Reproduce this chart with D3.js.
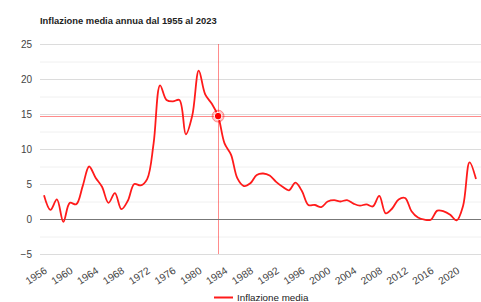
<!DOCTYPE html>
<html>
<head>
<meta charset="utf-8">
<script src="https://cdn.jsdelivr.net/npm/d3@7"></script>
<style>
  html, body { margin: 0; padding: 0; background: #fff; }
  svg { display: block; font-family: Arial, "Liberation Sans", sans-serif; }
</style>
</head>
<body>
<svg id="chart" width="481" height="302"></svg>
<script>
// ---- data ----
const title = "Inflazione media annua dal 1955 al 2023";
const seriesName = "Inflazione media";
const years = d3.range(1956, 2024);
const inflation = [
  3.4, 1.3, 2.8, -0.4, 2.3, 2.1, 4.7, 7.5, 5.9, 4.6,
  2.3, 3.7, 1.4, 2.6, 5.0, 4.8, 5.7, 10.8, 19.1, 17.0,
  16.8, 17.0, 12.1, 14.8, 21.2, 17.8, 16.5, 14.7, 10.8, 9.2,
  5.8, 4.7, 5.1, 6.3, 6.5, 6.2, 5.3, 4.6, 4.1, 5.2,
  4.0, 2.0, 2.0, 1.7, 2.5, 2.7, 2.5, 2.7, 2.2, 1.9,
  2.1, 1.8, 3.3, 0.8, 1.5, 2.8, 3.0, 1.1, 0.2, -0.1,
  -0.1, 1.2, 1.1, 0.6, -0.2, 1.9, 8.1, 5.7
];
const yTicks = [-5, 0, 5, 10, 15, 20, 25];
const yMinorTicks = [-2.5, 2.5, 7.5, 12.5, 17.5, 22.5];
const xTicks = d3.range(1956, 2021, 4);
const highlightYear = 1983;

// ---- layout ----
const svg = d3.select("#chart");
const plotLeft = 40, plotRight = 481;
const x = d3.scaleLinear().domain([1956, 2023]).range([44, 476]);
const y = d3.scaleLinear().domain([-5, 25]).range([254, 44]);

// title
svg.append("text")
  .attr("x", 40).attr("y", 24)
  .attr("font-size", 9.4).attr("font-weight", "bold").attr("fill", "#222")
  .text(title);

// minor gridlines
svg.append("g").selectAll("line").data(yMinorTicks).join("line")
  .attr("x1", plotLeft).attr("x2", plotRight)
  .attr("y1", d => y(d) + 0.5).attr("y2", d => y(d) + 0.5)
  .attr("stroke", "#f0f0f0").attr("stroke-width", 1);

// major gridlines
svg.append("g").selectAll("line").data(yTicks.filter(d => d !== 0)).join("line")
  .attr("x1", plotLeft).attr("x2", plotRight)
  .attr("y1", d => y(d) + 0.5).attr("y2", d => y(d) + 0.5)
  .attr("stroke", "#dcdcdc").attr("stroke-width", 1);

// y axis labels via d3 axis
const yAxis = svg.append("g")
  .attr("transform", `translate(${plotLeft - 8},0)`)
  .call(d3.axisLeft(y).tickValues(yTicks).tickSize(0).tickPadding(0).tickFormat(d3.format("d")));
yAxis.select(".domain").remove();
yAxis.selectAll("text").attr("font-size", 10).attr("fill", "#444")
  .attr("font-family", "Arial, 'Liberation Sans', sans-serif");

// x axis labels (slanted)
const xAxis = svg.append("g")
  .attr("transform", `translate(0,${y(-5) + 12})`)
  .call(d3.axisBottom(x).tickValues(xTicks).tickSize(0).tickPadding(0).tickFormat(d3.format("d")));
xAxis.select(".domain").remove();
xAxis.selectAll("text")
  .attr("font-size", 10.3).attr("fill", "#444")
  .attr("font-family", "Arial, 'Liberation Sans', sans-serif")
  .attr("text-anchor", "end")
  .attr("dy", "0.75em")
  .attr("transform", "translate(-1,0) rotate(-33)");

// crosshair
const hi = years.indexOf(highlightYear);
const hx = x(highlightYear), hy = y(inflation[hi]);
svg.append("line")
  .attr("x1", Math.round(hx) + 0.5).attr("x2", Math.round(hx) + 0.5)
  .attr("y1", y(25)).attr("y2", y(-5))
  .attr("stroke", "#ff0000").attr("stroke-opacity", 0.45).attr("stroke-width", 1);
svg.append("line")
  .attr("x1", plotLeft).attr("x2", plotRight)
  .attr("y1", Math.round(hy) + 0.5).attr("y2", Math.round(hy) + 0.5)
  .attr("stroke", "#ff0000").attr("stroke-opacity", 0.45).attr("stroke-width", 1);

// zero baseline
svg.append("line")
  .attr("x1", plotLeft).attr("x2", plotRight)
  .attr("y1", y(0) + 0.5).attr("y2", y(0) + 0.5)
  .attr("stroke", "#777").attr("stroke-width", 1);

// line
const line = d3.line()
  .x((d, i) => x(years[i]))
  .y(d => y(d))
  .curve(d3.curveCatmullRom.alpha(0.5));
svg.append("path")
  .datum(inflation)
  .attr("d", line)
  .attr("fill", "none")
  .attr("stroke", "#ff1a1a")
  .attr("stroke-width", 1.8)
  .attr("stroke-linejoin", "round");

// highlighted point
svg.append("circle")
  .attr("cx", hx).attr("cy", hy).attr("r", 6)
  .attr("fill", "#ff0000").attr("fill-opacity", 0.25)
  .attr("stroke", "#ff0000").attr("stroke-opacity", 0.35);
svg.append("circle")
  .attr("cx", hx).attr("cy", hy).attr("r", 3.8)
  .attr("fill", "#ff0000").attr("stroke", "#fff").attr("stroke-width", 1);

// legend
svg.append("line")
  .attr("x1", 214).attr("x2", 233).attr("y1", 297.5).attr("y2", 297.5)
  .attr("stroke", "#ff1a1a").attr("stroke-width", 2);
svg.append("text")
  .attr("x", 237).attr("y", 301)
  .attr("font-size", 9.8).attr("fill", "#222")
  .text(seriesName);
</script>
</body>
</html>
